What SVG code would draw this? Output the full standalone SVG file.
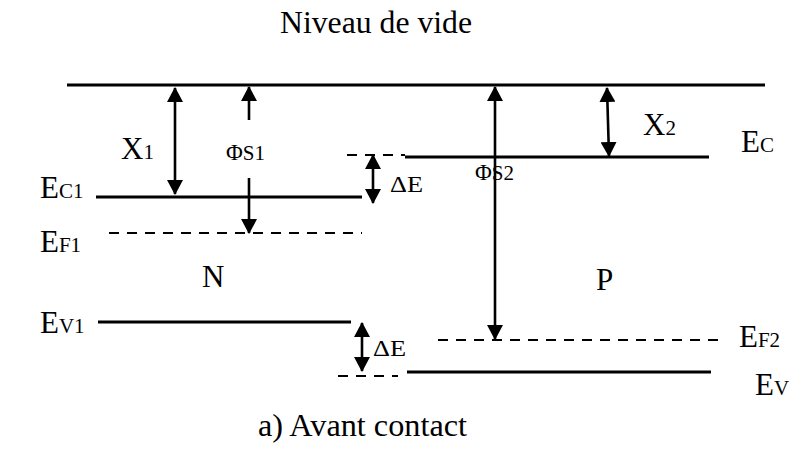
<svg xmlns="http://www.w3.org/2000/svg" width="794" height="450" viewBox="0 0 794 450">
<style>
text{font-family:"Liberation Serif","Times New Roman",serif;fill:#000}
.t{font-size:31px}
.s{font-size:21px}
.m{font-size:23px}
.lv{stroke:#000;stroke-width:3.2;fill:none}
.da{stroke:#000;stroke-width:2.2;fill:none;stroke-dasharray:10,8}
.ar{stroke:#000;stroke-width:2.6;fill:none}
</style>
<defs>
<marker id="ah" viewBox="0 0 15 16" refX="14" refY="8" markerWidth="15" markerHeight="16" markerUnits="userSpaceOnUse" orient="auto-start-reverse">
<path d="M0,0 L15,8 L0,16 Z" fill="#000"/>
</marker>
</defs>
<rect width="794" height="450" fill="#fff"/>
<g id="title"><text class="t" x="280" y="33" textLength="192" lengthAdjust="spacingAndGlyphs">Niveau de vide</text></g>
<g id="levels">
<line class="lv" x1="67" y1="85" x2="765" y2="85"/>
<line class="lv" x1="96" y1="197" x2="362" y2="197"/>
<line class="da" x1="109" y1="233" x2="362" y2="233"/>
<line class="lv" x1="98" y1="322" x2="351" y2="322"/>
<line class="da" x1="347" y1="155" x2="405" y2="155" stroke-dasharray="8,8"/>
<line class="lv" x1="405" y1="157" x2="709" y2="157"/>
<line class="da" x1="338" y1="376" x2="398" y2="376" stroke-dasharray="8,8"/>
<line class="lv" x1="407" y1="372" x2="711" y2="372"/>
<line class="da" x1="438" y1="340" x2="720" y2="340"/>
</g>
<g id="connectors">
<line class="ar" x1="175" y1="88" x2="175" y2="194" marker-start="url(#ah)" marker-end="url(#ah)"/>
<line class="ar" x1="249" y1="120" x2="249" y2="87" marker-end="url(#ah)"/>
<line class="ar" x1="249" y1="178" x2="249" y2="233" marker-end="url(#ah)"/>
<line class="ar" x1="373" y1="155" x2="373" y2="203" marker-start="url(#ah)" marker-end="url(#ah)"/>
<line class="ar" x1="495" y1="87" x2="495" y2="339" marker-start="url(#ah)" marker-end="url(#ah)"/>
<line class="ar" x1="607" y1="88" x2="609" y2="156" marker-start="url(#ah)" marker-end="url(#ah)"/>
<line class="ar" x1="362" y1="323" x2="362" y2="371" marker-start="url(#ah)" marker-end="url(#ah)"/>
</g>
<g id="labels">
<text class="t" x="121" y="159">X<tspan class="s" dy="0">1</tspan></text>
<text class="m" x="226" y="160">Φ<tspan class="s" dy="0">S1</tspan></text>
<text class="m" x="390" y="192" textLength="33" lengthAdjust="spacingAndGlyphs">ΔE</text>
<text class="m" x="475" y="180">Φ<tspan class="s" dy="0">S2</tspan></text>
<text class="t" x="643" y="135">X<tspan class="s" dy="0">2</tspan></text>
<text class="t" x="741" y="152">E<tspan class="s" dy="0">C</tspan></text>
<text class="t" x="40" y="198">E<tspan class="s" dy="0">C1</tspan></text>
<text class="t" x="40" y="252">E<tspan class="s" dy="0">F1</tspan></text>
<text class="t" x="40" y="333">E<tspan class="s" dy="0">V1</tspan></text>
<text class="t" x="202" y="287">N</text>
<text class="t" x="596" y="290">P</text>
<text class="m" x="373" y="356" textLength="33" lengthAdjust="spacingAndGlyphs">ΔE</text>
<text class="t" x="739" y="347">E<tspan class="s" dy="0">F2</tspan></text>
<text class="t" x="755" y="395">E<tspan class="s" dy="0">V</tspan></text>
</g>
<g id="caption"><text class="t" x="258" y="436" textLength="209" lengthAdjust="spacingAndGlyphs">a) Avant contact</text></g>
</svg>
